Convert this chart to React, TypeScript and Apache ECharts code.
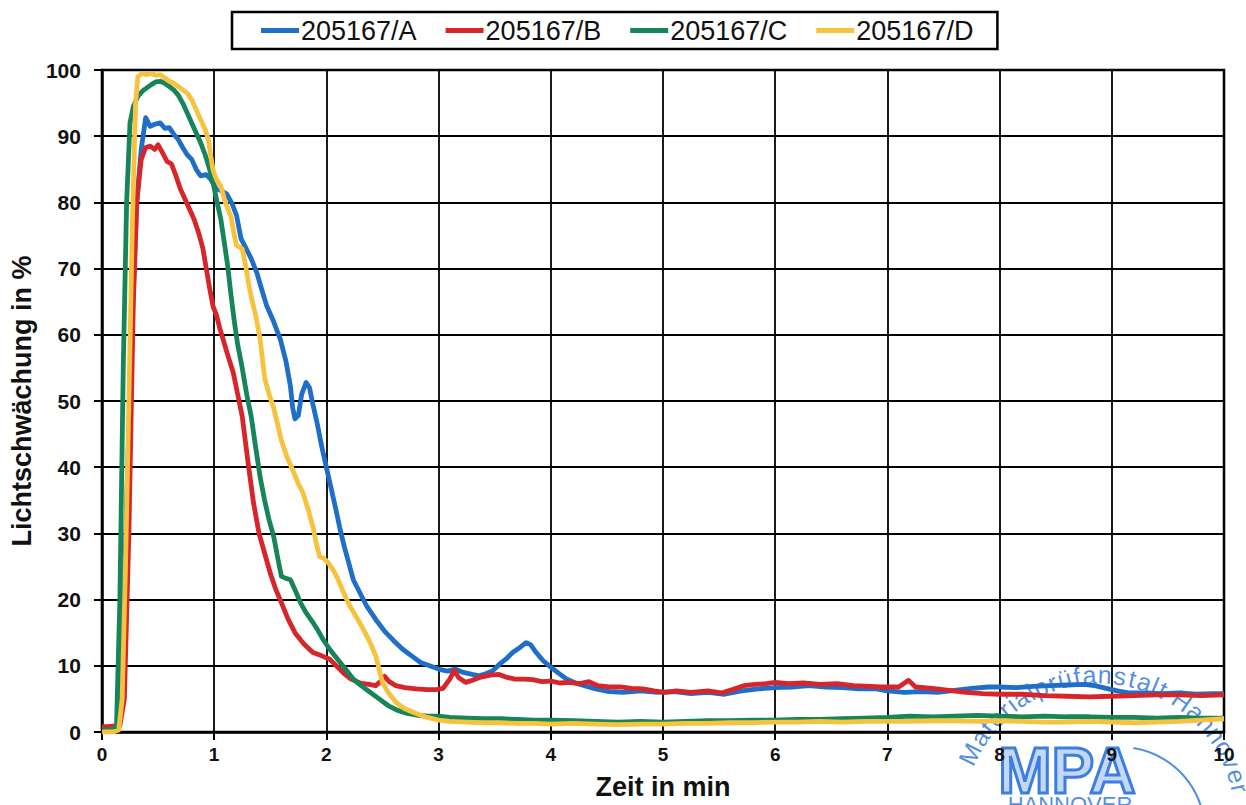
import React, { useEffect, useRef } from "react";
import * as echarts from "echarts";

const seriesNames = ["205167/A", "205167/B", "205167/C", "205167/D"];
const seriesColors = ["#1f6fc8", "#d7262b", "#17855a", "#f7c33e"];
const xTicks = [0, 1, 2, 3, 4, 5, 6, 7, 8, 9, 10];
const yTicks = [0, 10, 20, 30, 40, 50, 60, 70, 80, 90, 100];
const stampArcText = "Materialprüfanstalt Hannover";
const stampLogo = "MPA";
const stampCity = "HANNOVER";

const dataA: number[][] = [
  [0, 0.5], [0.05, 0.6], [0.1, 0.8], [0.14, 1], [0.18, 10], [0.22, 35], [0.27, 62], [0.31, 80], [0.35, 88],
  [0.39, 92.8], [0.43, 91.5], [0.47, 91.8], [0.52, 92], [0.56, 91.2], [0.6, 91.3], [0.64, 90.3], [0.68, 89.5],
  [0.72, 88.3], [0.76, 87.2], [0.8, 86.5], [0.84, 85], [0.88, 84], [0.93, 84.2], [0.97, 83.5], [1.02, 82],
  [1.06, 81.8], [1.11, 81.3], [1.16, 79.8], [1.2, 78], [1.24, 74.5], [1.28, 73.2], [1.33, 71.5], [1.38, 69.4],
  [1.43, 66.5], [1.47, 64.3], [1.53, 62], [1.59, 59.3], [1.64, 56], [1.68, 52.2], [1.7, 49], [1.72, 47.3],
  [1.75, 47.8], [1.78, 51], [1.82, 52.8], [1.85, 52], [1.88, 49.5], [1.92, 46.5], [1.96, 43], [2.0, 40],
  [2.04, 37], [2.08, 34], [2.12, 30.8], [2.16, 28], [2.2, 25.5], [2.24, 23], [2.3, 21], [2.36, 19], [2.44, 17],
  [2.52, 15.2], [2.6, 13.8], [2.68, 12.5], [2.76, 11.5], [2.84, 10.5], [2.92, 10], [3.0, 9.5], [3.08, 9.2],
  [3.15, 9.5], [3.22, 9], [3.3, 8.7], [3.36, 8.5], [3.42, 8.8], [3.48, 9.2], [3.54, 10.2], [3.6, 11], [3.66, 12],
  [3.72, 12.7], [3.78, 13.5], [3.82, 13.2], [3.87, 12], [3.93, 10.8], [4.0, 9.8], [4.06, 9], [4.14, 8],
  [4.22, 7.4], [4.3, 7], [4.4, 6.5], [4.52, 6.1], [4.65, 6], [4.8, 6.2], [4.95, 6], [5.1, 6.1], [5.25, 5.8],
  [5.4, 6], [5.55, 5.7], [5.7, 6.2], [5.85, 6.5], [6.0, 6.7], [6.15, 6.8], [6.3, 7], [6.45, 6.8], [6.6, 6.7],
  [6.75, 6.5], [6.9, 6.5], [7.0, 6.2], [7.15, 6], [7.3, 6.1], [7.45, 6], [7.6, 6.3], [7.75, 6.6], [7.9, 6.8],
  [8.0, 6.8], [8.15, 6.7], [8.3, 6.9], [8.45, 7], [8.6, 7.1], [8.75, 7.2], [8.85, 7], [8.95, 6.6], [9.05, 6.2],
  [9.15, 5.9], [9.3, 5.9], [9.45, 5.8], [9.6, 5.9], [9.75, 5.7], [9.9, 5.8], [10, 5.8],
];

const dataB: number[][] = [
  [0, 0.8], [0.05, 0.8], [0.1, 0.9], [0.16, 1], [0.2, 5], [0.24, 30], [0.28, 65], [0.31, 80], [0.35, 86.5],
  [0.39, 88.3], [0.43, 88.5], [0.47, 88], [0.5, 88.7], [0.54, 87.5], [0.58, 86.2], [0.62, 85.8], [0.66, 84],
  [0.7, 82], [0.74, 80.5], [0.78, 79], [0.82, 77.5], [0.86, 75.5], [0.9, 73], [0.93, 70], [0.96, 67],
  [0.99, 64.3], [1.02, 63], [1.05, 61], [1.08, 59.3], [1.12, 57], [1.17, 54.3], [1.21, 51], [1.25, 47.7],
  [1.3, 41], [1.35, 34.7], [1.4, 30], [1.45, 27], [1.5, 24], [1.55, 21.5], [1.6, 19.5], [1.66, 17], [1.72, 15],
  [1.8, 13.3], [1.88, 12], [1.96, 11.5], [2.03, 11], [2.1, 9.8], [2.16, 8.8], [2.22, 8], [2.3, 7.4], [2.38, 7.2],
  [2.44, 7], [2.48, 7.6], [2.52, 8.4], [2.56, 7.6], [2.62, 7], [2.7, 6.7], [2.8, 6.5], [2.9, 6.4], [2.98, 6.4],
  [3.04, 6.6], [3.1, 8], [3.14, 9.3], [3.18, 8.2], [3.24, 7.5], [3.3, 7.8], [3.38, 8.3], [3.46, 8.6], [3.54, 8.7],
  [3.6, 8.3], [3.68, 8], [3.76, 8], [3.84, 7.9], [3.92, 7.6], [4.0, 7.7], [4.08, 7.4], [4.16, 7.5], [4.26, 7.3],
  [4.34, 7.6], [4.42, 7], [4.52, 6.8], [4.62, 6.8], [4.72, 6.6], [4.82, 6.5], [4.92, 6.2], [5.02, 6], [5.12, 6.2],
  [5.25, 6], [5.4, 6.2], [5.52, 5.9], [5.62, 6.4], [5.72, 7], [5.82, 7.2], [5.92, 7.3], [6.0, 7.5], [6.12, 7.3],
  [6.25, 7.4], [6.4, 7.2], [6.55, 7.3], [6.7, 7], [6.85, 6.9], [6.95, 6.8], [7.1, 6.8], [7.19, 7.8], [7.25, 6.8],
  [7.4, 6.6], [7.55, 6.3], [7.7, 6], [7.85, 5.8], [8.0, 5.7], [8.2, 5.7], [8.4, 5.5], [8.6, 5.4], [8.8, 5.3],
  [9.0, 5.4], [9.2, 5.5], [9.4, 5.6], [9.6, 5.6], [9.8, 5.5], [10, 5.6],
];

const dataC: number[][] = [
  [0, 0.3], [0.1, 0.3], [0.13, 1], [0.16, 20], [0.19, 55], [0.22, 80], [0.25, 92], [0.28, 94.5], [0.32, 96],
  [0.36, 96.8], [0.4, 97.3], [0.44, 97.8], [0.48, 98.2], [0.52, 98.3], [0.56, 98], [0.6, 97.5], [0.64, 97],
  [0.68, 96.2], [0.72, 95], [0.76, 93.5], [0.8, 92], [0.84, 90.5], [0.88, 89], [0.92, 87.2], [0.96, 85],
  [0.99, 83], [1.02, 80.5], [1.06, 77.4], [1.09, 74], [1.12, 70.5], [1.15, 66], [1.18, 62], [1.21, 58.5],
  [1.25, 55], [1.29, 51], [1.33, 47.7], [1.37, 43], [1.41, 38.5], [1.45, 35], [1.49, 32], [1.53, 29.6],
  [1.57, 26], [1.6, 23.5], [1.64, 23.2], [1.68, 23], [1.72, 21.5], [1.77, 19.5], [1.82, 18], [1.87, 16.8],
  [1.92, 15.5], [1.97, 14], [2.03, 12.5], [2.1, 11], [2.17, 9.5], [2.24, 8], [2.31, 7], [2.39, 6], [2.47, 5],
  [2.55, 4], [2.63, 3.3], [2.72, 2.8], [2.82, 2.5], [2.92, 2.4], [3.0, 2.4], [3.1, 2.2], [3.25, 2.1], [3.4, 2],
  [3.55, 2], [3.7, 1.9], [3.85, 1.8], [4.0, 1.8], [4.2, 1.7], [4.4, 1.6], [4.6, 1.5], [4.8, 1.6], [5.0, 1.5],
  [5.2, 1.6], [5.4, 1.7], [5.6, 1.7], [5.8, 1.8], [6.0, 1.8], [6.2, 1.9], [6.4, 1.9], [6.6, 2], [6.8, 2.1],
  [7.0, 2.2], [7.2, 2.4], [7.4, 2.3], [7.6, 2.4], [7.8, 2.5], [8.0, 2.4], [8.2, 2.3], [8.4, 2.4], [8.6, 2.3],
  [8.8, 2.3], [9.0, 2.2], [9.2, 2.2], [9.4, 2.1], [9.6, 2.2], [9.8, 2.1], [10, 2.1],
];

const dataD: number[][] = [
  [0, 0], [0.1, 0], [0.15, 0.3], [0.18, 5], [0.21, 25], [0.24, 50], [0.27, 76], [0.3, 95], [0.32, 99],
  [0.36, 99.5], [0.4, 99.3], [0.44, 99.5], [0.48, 99.2], [0.52, 99.3], [0.56, 98.8], [0.6, 98.3], [0.64, 98],
  [0.68, 97.5], [0.72, 97], [0.76, 96.5], [0.8, 95.5], [0.84, 94], [0.88, 92.5], [0.92, 91], [0.95, 89.4],
  [0.97, 87], [0.99, 84.9], [1.02, 83.5], [1.06, 82.4], [1.1, 80], [1.15, 77.8], [1.18, 75], [1.2, 73.5],
  [1.25, 73], [1.28, 70.5], [1.31, 67.5], [1.34, 65], [1.37, 63], [1.41, 59.3], [1.45, 53.5], [1.49, 51],
  [1.53, 49], [1.57, 46.2], [1.6, 44], [1.65, 41.5], [1.71, 39.2], [1.75, 37.5], [1.79, 36.2], [1.84, 33.5],
  [1.88, 31], [1.91, 28.5], [1.94, 26.5], [1.98, 26.2], [2.02, 25.5], [2.06, 24.5], [2.1, 23.2], [2.15, 21.2],
  [2.21, 19], [2.27, 17.3], [2.33, 15.5], [2.39, 13.5], [2.44, 11.5], [2.47, 9.5], [2.5, 7.5], [2.55, 6],
  [2.62, 4.5], [2.7, 3.5], [2.8, 2.8], [2.9, 2.2], [3.0, 1.8], [3.1, 1.6], [3.25, 1.5], [3.4, 1.4], [3.55, 1.4],
  [3.7, 1.3], [3.85, 1.3], [4.0, 1.2], [4.2, 1.3], [4.4, 1.2], [4.6, 1.1], [4.8, 1.2], [5.0, 1.2], [5.2, 1.3],
  [5.4, 1.3], [5.6, 1.4], [5.8, 1.4], [6.0, 1.5], [6.2, 1.5], [6.4, 1.6], [6.6, 1.5], [6.8, 1.6], [7.0, 1.6],
  [7.2, 1.6], [7.4, 1.7], [7.6, 1.7], [7.8, 1.6], [8.0, 1.7], [8.2, 1.6], [8.4, 1.5], [8.6, 1.5], [8.8, 1.6],
  [9.0, 1.5], [9.2, 1.4], [9.4, 1.5], [9.6, 1.6], [9.8, 1.8], [10, 2.0],
];

const allData = [dataA, dataB, dataC, dataD];
const FONT = "'Liberation Sans', Arial, sans-serif";
const STAMP = "#3d7fe0";

function charWidth(ch: string): number {
  if ("il ".includes(ch)) return 0.26;
  if ("tfr".includes(ch)) return 0.36;
  if (ch === "M") return 0.85;
  if (ch === "H") return 0.74;
  if (ch === "m") return 0.85;
  return 0.56;
}

function buildStamp(): any[] {
  const cx = 1099;
  const cy = 819;
  const r = 132;
  const fs = 25;
  const widths = stampArcText.split("").map((c) => charWidth(c) * fs * 1.08);
  const total = widths.reduce((a, b) => a + b, 0);
  const startAngle = -68 * (Math.PI / 180);
  const span = total / (r + 10);
  const items: any[] = [];
  let acc = 0;
  stampArcText.split("").forEach((ch, i) => {
    const mid = acc + widths[i] / 2;
    acc += widths[i];
    const th = startAngle + (mid / total) * span;
    items.push({
      type: "text",
      x: cx + r * Math.sin(th),
      y: cy - r * Math.cos(th),
      rotation: -th,
      silent: true,
      style: {
        text: ch,
        fill: STAMP,
        font: `${fs}px ${FONT}`,
        align: "center",
        verticalAlign: "bottom",
        opacity: 0.9,
      },
    });
  });
  items.push({
    type: "text",
    x: 1067,
    y: 803,
    silent: true,
    style: {
      text: stampLogo,
      fill: "rgba(61,127,224,0.3)",
      stroke: STAMP,
      lineWidth: 3,
      font: `bold 64px ${FONT}`,
      align: "center",
      verticalAlign: "bottom",
    },
  });
  items.push({
    type: "text",
    x: 1070,
    y: 793,
    silent: true,
    style: {
      text: stampCity,
      fill: STAMP,
      font: `22px ${FONT}`,
      align: "center",
      verticalAlign: "top",
      opacity: 0.9,
    },
  });
  items.push({
    type: "arc",
    silent: true,
    shape: { cx: 1120, cy: 832, r: 85, startAngle: -Math.PI * 0.45, endAngle: Math.PI * 0.05 },
    style: { stroke: STAMP, lineWidth: 2, fill: "none", opacity: 0.9 },
  });
  return items;
}

export default function App() {
  const ref = useRef<HTMLDivElement>(null);
  useEffect(() => {
    if (!ref.current) return;
    const chart = echarts.init(ref.current, undefined, { renderer: "svg" });
    chart.setOption({
      animation: false,
      backgroundColor: "#ffffff",
      textStyle: { fontFamily: FONT },
      legend: {
        left: 232,
        top: 12,
        data: seriesNames,
        icon: "rect",
        itemWidth: 38,
        itemHeight: 5,
        itemGap: 29,
        borderColor: "#000",
        borderWidth: 2.5,
        padding: [5, 24, 5, 29],
        textStyle: { fontSize: 27, color: "#111", fontFamily: FONT, padding: [0, 0, 0, -3] },
      },
      grid: {
        left: 98,
        right: 22,
        top: 70,
        bottom: 72,
        show: true,
        borderColor: "#000",
        borderWidth: 2.5,
        backgroundColor: "#fff",
      },
      xAxis: {
        type: "value",
        min: xTicks[0],
        max: xTicks[xTicks.length - 1],
        interval: 1,
        name: "Zeit in min",
        nameLocation: "middle",
        nameGap: 41,
        nameTextStyle: { fontSize: 27, fontWeight: "bold", color: "#111", fontFamily: FONT },
        axisLine: { show: true, lineStyle: { color: "#000", width: 2.5 } },
        axisTick: { show: true, length: 8, lineStyle: { color: "#000", width: 2 } },
        axisLabel: { fontSize: 19, fontWeight: "bold", color: "#111", margin: 13, fontFamily: FONT },
        splitLine: { show: true, lineStyle: { color: "#000", width: 1.8 } },
      },
      yAxis: {
        type: "value",
        min: yTicks[0],
        max: yTicks[yTicks.length - 1],
        interval: 10,
        name: "Lichtschwächung in %",
        nameLocation: "middle",
        nameGap: 50,
        nameTextStyle: { fontSize: 27, fontWeight: "bold", color: "#111", fontFamily: FONT },
        axisLine: { show: true, lineStyle: { color: "#000", width: 2.5 } },
        axisTick: { show: true, length: 8, lineStyle: { color: "#000", width: 2 } },
        axisLabel: { fontSize: 21, fontWeight: "bold", color: "#111", margin: 21, fontFamily: FONT },
        splitLine: { show: true, lineStyle: { color: "#000", width: 1.8 } },
      },
      graphic: buildStamp(),
      series: seriesNames.map((name, i) => ({
        name,
        type: "line",
        data: allData[i],
        showSymbol: false,
        symbol: "none",
        lineStyle: { color: seriesColors[i], width: 4.8, join: "round" },
        itemStyle: { color: seriesColors[i] },
        z: 2 + i,
      })),
    });
    return () => chart.dispose();
  }, []);
  return (
    <div
      ref={ref}
      style={{ position: "fixed", left: 0, top: 0, width: 1246, height: 805, background: "#fff" }}
    />
  );
}
